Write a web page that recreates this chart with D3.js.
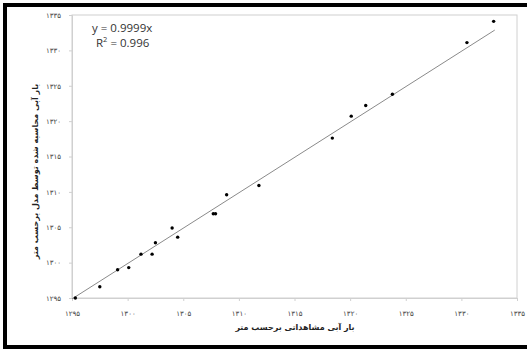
<!DOCTYPE html>
<html><head><meta charset="utf-8">
<script src="https://cdn.jsdelivr.net/npm/d3@7"></script>
<style>body{margin:0;background:#fff}svg{display:block}</style>
</head><body>
<script>
const observed = [1295.3,1297.5,1299.1,1300.1,1301.2,1302.2,1302.5,1304.0,1304.5,1307.7,1307.9,1308.9,1311.8,1318.4,1320.1,1321.4,1323.8,1330.5,1332.9];
const simulated = [1295.0,1296.6,1299.0,1299.3,1301.2,1301.2,1302.8,1304.9,1303.6,1306.9,1306.9,1309.6,1310.9,1317.6,1320.7,1322.2,1323.8,1331.1,1334.1];
const tickValues = [1295,1300,1305,1310,1315,1320,1325,1330,1335];
const slope = 0.9999;
const fitRange = [1295, 1333];
const eqText = "y = 0.9999x";
const r2Text = "0.996";
const xTitle = "بار آبی مشاهداتی برحسب متر";
const yTitle = "بار آبی محاسبه شده توسط مدل برحسب متر";

const W=527,H=351;
const svg=d3.select("body").append("svg").attr("width",W).attr("height",H);
const fa = v => String(v).replace(/\d/g,d=>"۰۱۲۳۴۵۶۷۸۹"[d]);
const m={l:72,r:517,t:15,b:298};
const x=d3.scaleLinear().domain([1295,1335]).range([m.l,m.r]);
const y=d3.scaleLinear().domain([1295,1335]).range([m.b,m.t]);

// outer frame
svg.append("rect").attr("x",5).attr("y",5).attr("width",540).attr("height",342)
  .attr("fill","none").attr("stroke","#000").attr("stroke-width",4);

// plot box
svg.append("rect").attr("x",m.l).attr("y",m.t).attr("width",m.r-m.l).attr("height",m.b-m.t)
  .attr("fill","none").attr("stroke","#d0d0d0").attr("stroke-width",1);

const xa=svg.append("g").attr("transform",`translate(0,${m.b})`)
  .call(d3.axisBottom(x).tickValues(tickValues).tickSize(3).tickPadding(10).tickFormat(fa));
const ya=svg.append("g").attr("transform",`translate(${m.l},0)`)
  .call(d3.axisLeft(y).tickValues(tickValues).tickSize(3).tickPadding(8).tickFormat(fa));
[xa,ya].forEach(a=>{
  a.select(".domain").attr("stroke","#d0d0d0");
  a.selectAll(".tick line").attr("stroke","#d0d0d0");
  a.selectAll("text").attr("fill","#444").style("font-family","DejaVu Sans").style("font-size","7px");
});

// fit line
svg.append("line").attr("x1",x(fitRange[0])).attr("y1",y(fitRange[0]*slope))
  .attr("x2",x(fitRange[1])).attr("y2",y(fitRange[1]*slope))
  .attr("stroke","#8a8a8a").attr("stroke-width",1);

// points
svg.selectAll("circle.p").data(observed).join("circle").attr("class","p")
  .attr("cx",d=>x(d)).attr("cy",(d,i)=>y(simulated[i])).attr("r",1.7).attr("fill","#000");

// equation
const t=svg.append("g").style("font-family","Open Sans, Liberation Sans").style("font-size","11.5px").attr("fill","#333");
t.append("text").attr("x",92).attr("y",32).text(eqText);
const r=t.append("text").attr("x",96).attr("y",47);
r.append("tspan").text("R");
r.append("tspan").attr("dy",-5).style("font-size","7.5px").text("2");
r.append("tspan").attr("dy",5).text(" = "+r2Text);

// titles
svg.append("text").attr("x",295).attr("y",330).attr("text-anchor","middle")
  .style("font-family","DejaVu Sans").style("font-size","8px").style("font-weight","bold").attr("fill","#222")
  .attr("direction","rtl").text(xTitle);
svg.append("text").attr("transform",`translate(38,${(m.t+m.b)/2+15}) rotate(-90)`).attr("text-anchor","middle")
  .style("font-family","DejaVu Sans").style("font-size","8px").style("font-weight","bold").attr("fill","#222")
  .attr("direction","rtl").text(yTitle);
</script>
</body></html>
